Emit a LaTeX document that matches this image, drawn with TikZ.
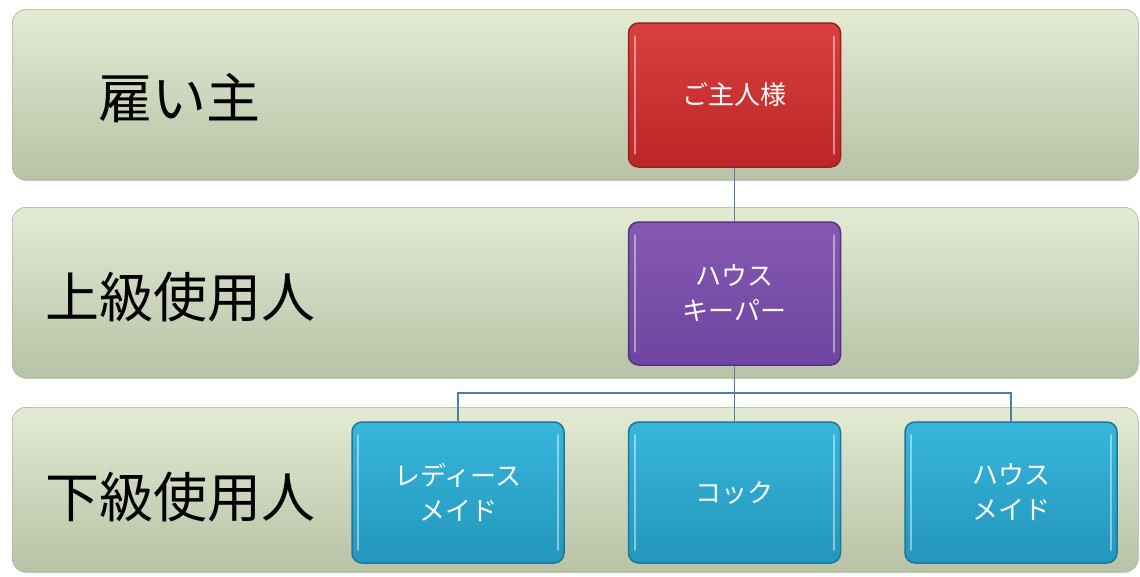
\documentclass[tikz,border=0pt]{standalone}
\usepackage{fontspec}
\setmainfont{Noto Sans CJK JP}
\usetikzlibrary{calc,backgrounds}
\definecolor{bandtop}{HTML}{E3EBD3}
\definecolor{bandbot}{HTML}{B8C2A6}
\definecolor{bandedge}{HTML}{A9B396}
\definecolor{redtop}{HTML}{D9403E}
\definecolor{redbot}{HTML}{BC2628}
\definecolor{rededge}{HTML}{9A1F20}
\definecolor{purtop}{HTML}{8558B3}
\definecolor{purbot}{HTML}{6E45A0}
\definecolor{puredge}{HTML}{553380}
\definecolor{cyantop}{HTML}{38B6DC}
\definecolor{cyanbot}{HTML}{2396BC}
\definecolor{cyanedge}{HTML}{1D7896}
\definecolor{linkc}{HTML}{4F7FA6}
\tikzset{
  band/.style={rectangle, rounded corners=14pt, top color=bandtop, bottom color=bandbot,
    draw=bandedge, line width=0.6pt, minimum width=1126pt, anchor=north west, inner sep=0pt},
  bandlabel/.style={font=\fontsize{54}{60}\selectfont, text=black},
  card/.style={rectangle, rounded corners=10pt, minimum width=212pt, inner sep=0pt,
    line width=1.5pt, text=white, align=center,
    font=\fontsize{26}{35}\selectfont},
  redcard/.style={card, top color=redtop, bottom color=redbot, draw=rededge},
  purcard/.style={card, top color=purtop, bottom color=purbot, draw=puredge},
  cyancard/.style={card, top color=cyantop, bottom color=cyanbot, draw=cyanedge},
  link/.style={draw=linkc, line width=1.6pt},
  gloss/.style={draw=white, draw opacity=0.45, line width=2pt, line cap=round}
}
\begin{document}
\begin{tikzpicture}[x=1pt,y=-1pt]
\useasboundingbox (0,0) rectangle (1140,576);
% cards
\node[redcard, minimum height=144pt] (boss) at (734.5,95) {ご主人様};
\node[purcard, minimum height=143pt] (hk) at (734.5,293.5) {ハウス\\キーパー};
\node[cyancard, minimum height=141pt] (lady) at (458,492.5) {レディース\\メイド};
\node[cyancard, minimum height=141pt] (cook) at (734.5,492.5) {コック};
\node[cyancard, minimum height=141pt] (maid) at (1011,492.5) {ハウス\\メイド};
\coordinate (bus) at (734.5,393);
\foreach \n in {boss,hk,lady,cook,maid}{
  \draw[gloss] ($(\n.north west)+(7,14)$) -- ($(\n.south west)+(7,-14)$);
  \draw[gloss] ($(\n.north east)+(-7,14)$) -- ($(\n.south east)+(-7,-14)$);
}
\begin{pgfonlayer}{background}
\fill[white] (0,0) rectangle (1140,576);
\node[band, minimum height=171pt] (b1) at (12,9) {};
\node[band, minimum height=171pt] (b2) at (12,207) {};
\node[band, minimum height=165pt] (b3) at (12,407) {};
\node[bandlabel] (l1) at (179,98) {雇い主};
\node[bandlabel] (l2) at (180,297) {上級使用人};
\node[bandlabel] (l3) at (180,497) {下級使用人};
\draw[link] (boss.south) -- (hk.north);
\draw[link] (hk.south) -- (cook.north);
\draw[link] (lady.north) -- (lady.north |- bus) -- (maid.north |- bus) -- (maid.north);
\end{pgfonlayer}
\end{tikzpicture}
\end{document}
